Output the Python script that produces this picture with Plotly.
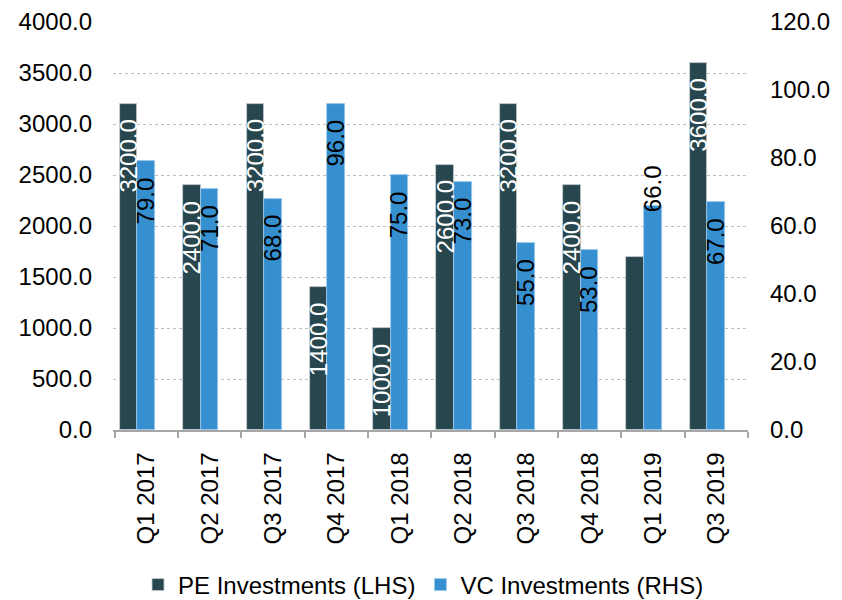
import plotly.graph_objects as go

quarters = ["Q1 2017", "Q2 2017", "Q3 2017", "Q4 2017", "Q1 2018",
            "Q2 2018", "Q3 2018", "Q4 2018", "Q1 2019", "Q3 2019"]
pe_values = [3200, 2400, 3200, 1400, 1000, 2600, 3200, 2400, 1700, 3600]
vc_values = [79, 71, 68, 96, 75, 73, 55, 53, 66, 67]
pe_label_shown = [True, True, True, True, True, True, True, True, False, True]
vc_label_outside = [False, False, False, False, False, False, False, False, True, False]

left_ticks = [0, 500, 1000, 1500, 2000, 2500, 3000, 3500, 4000]
right_ticks = [0, 20, 40, 60, 80, 100, 120]

PE_COLOR = "#28464D"
VC_COLOR = "#3690D0"
FONT = "Liberation Sans, Arial, sans-serif"
FS = 24

fig = go.Figure()
fig.add_trace(go.Bar(
    x=quarters, y=pe_values, name="PE Investments (LHS)",
    marker=dict(color=PE_COLOR, line=dict(color="#C9D1D3", width=0.8)),
    offset=-0.42, width=0.277, yaxis="y", hoverinfo="skip",
))
fig.add_trace(go.Bar(
    x=quarters, y=vc_values, name="VC Investments (RHS)",
    marker=dict(color=VC_COLOR, line=dict(color="#9CC8E8", width=0.8)),
    offset=-0.145, width=0.28, yaxis="y2", hoverinfo="skip",
))

annotations = []
for q, v, show in zip(quarters, pe_values, pe_label_shown):
    if show:
        annotations.append(dict(
            x=q, y=v, xref="x", yref="y", text=f"{v:.1f}", textangle=-90,
            showarrow=False, xanchor="center", yanchor="top",
            xshift=-18, yshift=-14,
            font=dict(family=FONT, size=FS, color="white")))
for q, v, outside in zip(quarters, vc_values, vc_label_outside):
    annotations.append(dict(
        x=q, y=v, xref="x", yref="y2", text=f"{v:.1f}", textangle=-90,
        showarrow=False, xanchor="center",
        yanchor="bottom" if outside else "top",
        xshift=-1, yshift=-9 if outside else -14,
        font=dict(family=FONT, size=FS, color="black")))

fig.update_layout(
    width=834, height=592,
    margin=dict(l=105, r=94, t=14, b=170, autoexpand=False),
    paper_bgcolor="white", plot_bgcolor="white",
    font=dict(family=FONT, size=FS, color="black"),
    barmode="overlay", bargap=0,
    showlegend=True,
    legend=dict(orientation="h", x=0.5 - 7 / 635, xanchor="center",
                yref="container", y=15 / 592, yanchor="middle",
                font=dict(family=FONT, size=FS, color="black"),
                traceorder="normal"),
    xaxis=dict(type="category", showline=True, linecolor="#A6A6A6", linewidth=1.5,
               ticks="outside", ticklen=6, tickcolor="#A6A6A6", tickwidth=1.5,
               tickson="boundaries", tickangle=-90, ticklabelstandoff=11,
               showgrid=False, automargin=False,
               tickfont=dict(family=FONT, size=FS, color="black")),
    yaxis=dict(range=[0, 4000], tickvals=left_ticks, tickformat=".1f",
               showgrid=True, gridcolor="#BFBFBF", griddash="3px,3px", gridwidth=1,
               zeroline=False, showline=False, ticks="", ticklabelstandoff=20,
               ticklabeloverflow="allow", automargin=False,
               tickfont=dict(family=FONT, size=FS, color="black")),
    yaxis2=dict(range=[0, 120], tickvals=right_ticks, tickformat=".1f",
                overlaying="y", side="right", showgrid=False, zeroline=False,
                showline=False, ticks="", ticklabelstandoff=21,
                ticklabeloverflow="allow", automargin=False,
                tickfont=dict(family=FONT, size=FS, color="black")),
    annotations=annotations,
)

fig.write_html("out.html")
